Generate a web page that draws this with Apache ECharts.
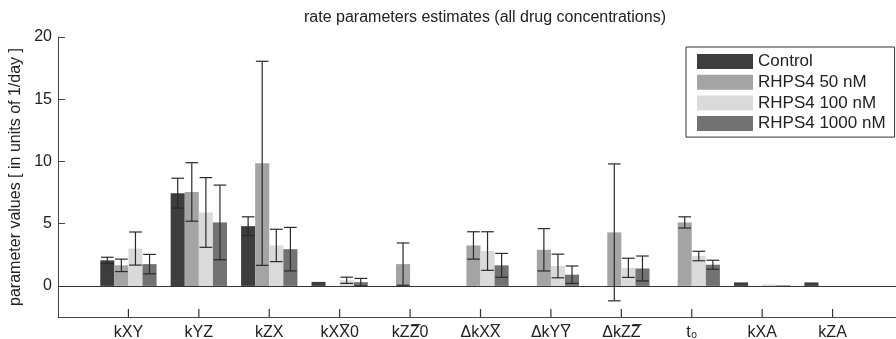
<!DOCTYPE html>
<html>
<head>
<meta charset="utf-8">
<script src="https://cdn.jsdelivr.net/npm/echarts@6/dist/echarts.min.js"></script>
<style>
  html, body { margin: 0; padding: 0; background: #fff; }
  #chart { width: 896px; height: 339px; }
</style>
</head>
<body>
<div id="chart"></div>
<script>
// Parameter names (x categories); combining marks draw the bars over letters
const categories = ['kXY', 'kYZ', 'kZX', 'kXX\u03050', 'kZZ\u03050', '\u0394kXX\u0305', '\u0394kYY\u0305', '\u0394kZZ\u0305', 't\u2080', 'kXA', 'kZA'];

// Group names
const groups = ['Control', 'RHPS4 50 nM', 'RHPS4 100 nM', 'RHPS4 1000 nM'];

// Estimated values (1/day) per group
const controlValues = [2.05, 7.45, 4.8, 0.32, null, null, null, null, null, 0.28, 0.28];
const nM50Values    = [1.65, 7.55, 9.85, null, 1.75, 3.25, 2.9, 4.3, 5.1, null, null];
const nM100Values   = [3.0, 5.9, 3.25, 0.45, null, 2.8, 1.6, 1.45, 2.4, 0.12, null];
const nM1000Values  = [1.75, 5.1, 2.95, 0.3, null, 1.65, 0.9, 1.4, 1.7, 0.05, null];

// Symmetric error half-widths per group
const controlErrors = [0.25, 1.2, 0.75, null, null, null, null, null, null, null, null];
const nM50Errors    = [0.5, 2.35, 8.2, null, 1.7, 1.1, 1.7, 5.5, 0.45, null, null];
const nM100Errors   = [1.33, 2.8, 1.3, 0.25, null, 1.55, 0.95, 0.77, 0.38, null, null];
const nM1000Errors  = [0.78, 3.0, 1.75, 0.3, null, 0.96, 0.7, 1.0, 0.36, null, null];

// Y tick labels
const yTicks = [0, 5, 10, 15, 20];

const values = [controlValues, nM50Values, nM100Values, nM1000Values];
const errors = [controlErrors, nM50Errors, nM100Errors, nM1000Errors];
const colors = ['#3d3d3d', '#a4a4a4', '#dadada', '#727272'];

// Axis has an empty slot at each end so groups sit one step in from the frame
const axisCats = [''].concat(categories, ['']);
const Y_MIN = -2.5;

const FONT = 'Liberation Sans, Arial, sans-serif';
const INK = '#222';

function padded(arr) { return [null].concat(arr, [null]); }

function errorRenderer(k) {
  return function (params, api) {
    const idx = api.value(0);
    const v = api.value(1);
    const e = api.value(2);
    const p0 = api.coord([idx, 0]);
    const p1 = api.coord([idx + 1, 0]);
    const band = p1[0] - p0[0];
    const bw = band * 0.8 / 4;
    const x = p0[0] + (k - 1.5) * bw;
    const yt = api.coord([idx, v + e])[1];
    const yb = api.coord([idx, v - e])[1];
    const half = bw * 0.45;
    const style = { stroke: '#2a2a2a', lineWidth: 1.2 };
    return {
      type: 'group',
      children: [
        { type: 'line', shape: { x1: x, y1: yt, x2: x, y2: yb }, style: style },
        { type: 'line', shape: { x1: x - half, y1: yt, x2: x + half, y2: yt }, style: style },
        { type: 'line', shape: { x1: x - half, y1: yb, x2: x + half, y2: yb }, style: style }
      ]
    };
  };
}

// Inward tick marks on the category axis, one per parameter
function tickRenderer(params, api) {
  const p = api.coord([api.value(0), api.value(1)]);
  return {
    type: 'line',
    shape: { x1: p[0], y1: p[1], x2: p[0], y2: p[1] - 8 },
    style: { stroke: '#333', lineWidth: 1.2 }
  };
}

const series = [];
groups.forEach(function (name, k) {
  series.push({
    name: name,
    type: 'bar',
    data: padded(values[k]),
    itemStyle: { color: colors[k] },
    barGap: '0%',
    barCategoryGap: '20%',
    z: 2,
    markLine: k === 0 ? {
      silent: true,
      symbol: 'none',
      label: { show: false },
      lineStyle: { color: '#333', type: 'solid', width: 1 },
      data: [{ yAxis: 0 }]
    } : undefined
  });
});
groups.forEach(function (name, k) {
  const data = [];
  values[k].forEach(function (v, i) {
    if (v != null && errors[k][i] != null) data.push([i + 1, v, errors[k][i]]);
  });
  series.push({
    name: name + ' error',
    type: 'custom',
    renderItem: errorRenderer(k),
    data: data,
    z: 5,
    silent: true
  });
});
series.push({
  name: 'ticks',
  type: 'custom',
  renderItem: tickRenderer,
  data: categories.map(function (c, i) { return [i + 1, Y_MIN]; }),
  encode: { x: 0, y: 1 },
  clip: false,
  z: 6,
  silent: true
});

const chart = echarts.init(document.getElementById('chart'), null, { renderer: 'canvas' });
chart.setOption({
  animation: false,
  backgroundColor: '#fff',
  title: {
    text: 'rate parameters estimates (all drug concentrations)',
    left: 480,
    top: 5,
    textAlign: 'center',
    textStyle: { fontFamily: FONT, fontSize: 16, fontWeight: 'normal', color: INK }
  },
  legend: {
    data: groups,
    orient: 'vertical',
    left: 686,
    top: 47,
    icon: 'rect',
    itemWidth: 56,
    itemHeight: 15,
    itemGap: 3.7,
    padding: [6, 9, 5, 11],
    borderColor: '#333',
    borderWidth: 1,
    backgroundColor: '#fff',
    textStyle: { fontFamily: FONT, fontSize: 17, color: INK }
  },
  grid: { left: 58, top: 37, width: 845, height: 280, containLabel: false, outerBoundsMode: 'none' },
  xAxis: {
    type: 'category',
    data: axisCats,
    boundaryGap: false,
    axisLine: { onZero: false, lineStyle: { color: '#444', width: 1 } },
    axisTick: { show: false },
    axisLabel: {
      interval: 0,
      margin: 8,
      fontFamily: FONT,
      fontSize: 16,
      color: INK
    },
    splitLine: { show: false }
  },
  yAxis: {
    type: 'value',
    min: Y_MIN,
    max: 20,
    name: 'parameter values [ in units of 1/day ]',
    nameLocation: 'middle',
    nameRotate: 90,
    nameGap: 33,
    nameTextStyle: { fontFamily: FONT, fontSize: 16, color: INK },
    axisLine: { show: true, onZero: false, lineStyle: { color: '#444', width: 1 } },
    axisTick: { show: true, inside: true, length: 7, customValues: yTicks, lineStyle: { color: '#444' } },
    axisLabel: { customValues: yTicks, margin: 6, fontFamily: FONT, fontSize: 16, color: INK },
    splitLine: { show: false }
  },
  series: series
});
</script>
</body>
</html>
